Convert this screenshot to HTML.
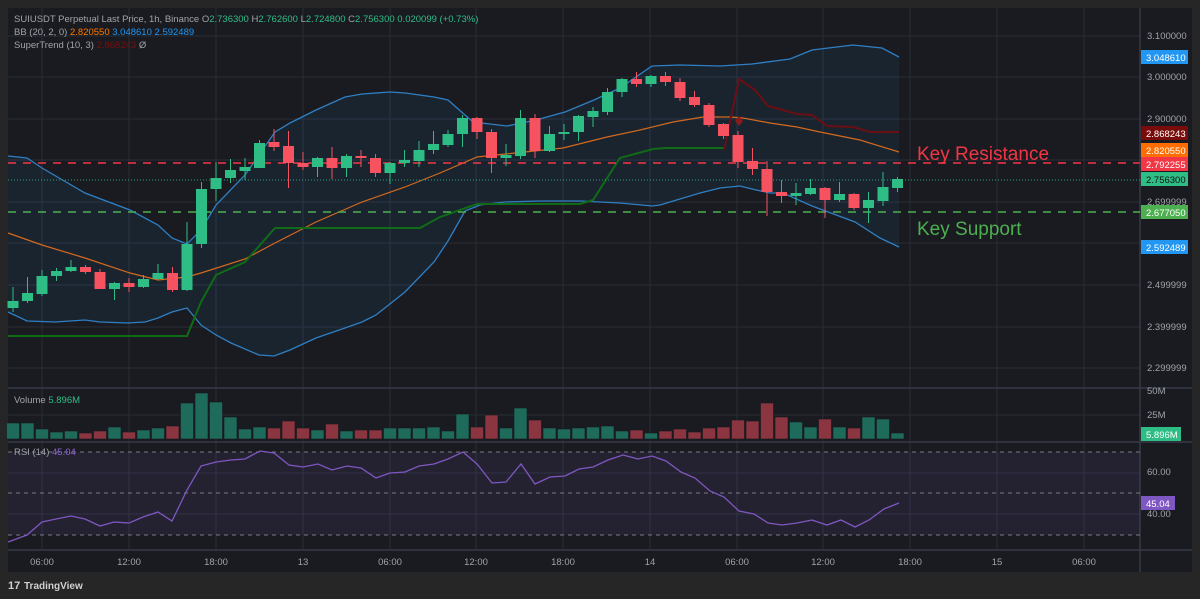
<!DOCTYPE html>
<html><head><meta charset="utf-8"><style>
html,body{margin:0;padding:0;background:#262626;width:1200px;height:599px;overflow:hidden;font-family:"Liberation Sans",sans-serif}
svg{position:absolute;left:0;top:0}
</style></head><body>
<svg id="s" width="1200" height="599" viewBox="0 0 1200 599" xmlns="http://www.w3.org/2000/svg" font-family="Liberation Sans, sans-serif">
<rect x="0" y="0" width="1200" height="599" fill="#262626"/>
<rect x="8" y="8" width="1184" height="564" fill="#1a1b20"/>
<g stroke="#2a2e39" stroke-width="1">
<line x1="8" y1="36" x2="1140" y2="36"/><line x1="8" y1="77" x2="1140" y2="77"/><line x1="8" y1="119" x2="1140" y2="119"/><line x1="8" y1="160" x2="1140" y2="160"/><line x1="8" y1="202" x2="1140" y2="202"/><line x1="8" y1="243" x2="1140" y2="243"/><line x1="8" y1="285" x2="1140" y2="285"/><line x1="8" y1="327" x2="1140" y2="327"/><line x1="8" y1="368" x2="1140" y2="368"/>
<line x1="8" y1="415" x2="1140" y2="415"/><line x1="8" y1="473" x2="1140" y2="473"/><line x1="8" y1="514" x2="1140" y2="514"/>
<line x1="42" y1="8" x2="42" y2="550"/><line x1="129" y1="8" x2="129" y2="550"/><line x1="216" y1="8" x2="216" y2="550"/><line x1="303" y1="8" x2="303" y2="550"/><line x1="390" y1="8" x2="390" y2="550"/><line x1="476" y1="8" x2="476" y2="550"/><line x1="563" y1="8" x2="563" y2="550"/><line x1="650" y1="8" x2="650" y2="550"/><line x1="737" y1="8" x2="737" y2="550"/><line x1="823" y1="8" x2="823" y2="550"/><line x1="910" y1="8" x2="910" y2="550"/><line x1="997" y1="8" x2="997" y2="550"/><line x1="1084" y1="8" x2="1084" y2="550"/>
</g>
<g stroke="#363a45" stroke-width="1.5">
<line x1="8" y1="388" x2="1192" y2="388"/><line x1="8" y1="442" x2="1192" y2="442"/><line x1="8" y1="550" x2="1192" y2="550"/><line x1="1140" y1="8" x2="1140" y2="572"/>
</g>
<!-- BB fill -->
<polygon fill="rgba(33,150,243,0.07)" points="8,156 27,158 42,168 85,193 130,210 158,225 172,238 187,244 201,230 216,205 245,175 275,132 290,123 316,110 345,97 362,94 390,92 405,93 434,97 448,100 465,115 473,122 507,126 536,120 565,112 594,100 620,88 652,66 680,65 720,66 752,64 790,59 812,50 853,45 882,48 899,57 899,247 880,238 855,222 812,206 783,193 770,193 752,189 740,186 720,188 700,193 660,205 652,206 620,203 580,201 540,201 505,202 480,205 465,211 448,241 434,262 405,292 376,315 362,322 345,328 316,338 290,350 274,356 259,355 231,343 216,335 201,325 187,308 172,312 158,318 145,322 128,323 100,322 85,320 55,322 27,321 8,312"/>
<polyline fill="none" stroke="#2f7fc4" stroke-width="1.3" points="8,156 27,158 42,168 85,193 130,210 158,225 172,238 187,244 201,230 216,205 245,175 275,132 290,123 316,110 345,97 362,94 390,92 405,93 434,97 448,100 465,115 473,122 507,126 536,120 565,112 594,100 620,88 652,66 680,65 720,66 752,64 790,59 812,50 853,45 882,48 899,57"/>
<polyline fill="none" stroke="#2f7fc4" stroke-width="1.3" points="8,312 27,321 55,322 85,320 100,322 128,323 145,322 158,318 172,312 187,308 201,325 216,335 231,343 259,355 274,356 290,350 316,338 345,328 362,322 376,315 405,292 434,262 448,241 465,211 480,205 505,202 540,201 580,201 620,203 652,206 660,205 700,193 720,188 740,186 752,189 770,193 783,193 812,206 855,222 880,238 899,247"/>
<polyline fill="none" stroke="#d2691e" stroke-width="1.2" points="8,233 42,245 85,258 130,273 158,280 187,277 201,273 245,259 275,243 316,222 362,202 405,187 440,173 477,157 563,148 607,137 640,130 673,122 703,117 730,117 743,118 770,123 797,127 820,132 860,140 899,152"/>
<polyline fill="none" stroke="#106b16" stroke-width="2" points="8,336 187,336 201,302 216,275 245,262 275,228 420,228 440,217 477,204 580,204 593,200 620,158 653,149 666,148 724,148"/>
<polyline fill="none" stroke="#6a0f14" stroke-width="2" points="724,150 739,79 755,90 768,106 797,114 812,115 827,126 853,127 870,132 899,132"/>
<path d="M739,116 l4,5 -4,5 -4,-5z" fill="#8a1a1a"/>
<line x1="8" y1="163" x2="1140" y2="163" stroke="#f23645" stroke-width="1.5" stroke-dasharray="8,7"/>
<line x1="8" y1="212" x2="1140" y2="212" stroke="#4caf50" stroke-width="1.5" stroke-dasharray="8,7"/>
<line x1="8" y1="180" x2="1140" y2="180" stroke="#2fa080" stroke-width="1" stroke-dasharray="1,2"/>
<g id="candles"></g>
<g id="vol"></g>
<!-- RSI -->
<rect x="8" y="452" width="1132" height="83" fill="rgba(126,87,194,0.1)"/>
<g stroke="#787b86" stroke-width="1" stroke-dasharray="4,4"><line x1="8" y1="452" x2="1140" y2="452"/><line x1="8" y1="493" x2="1140" y2="493"/><line x1="8" y1="535" x2="1140" y2="535"/></g>
<polyline fill="none" stroke="#7e57c2" stroke-width="1.3" points="8,542 27,535 42,522 56,519 71,516 85,519 100,526 114,522 129,523 143,517 158,512 172,521 187,490 201,466 216,462 231,460 245,459 260,451 274,453 289,465 303,467 318,464 332,470 347,466 361,468 376,478 390,473 405,472 419,466 434,464 448,459 463,452 477,464 492,483 506,482 521,464 535,484 550,477 565,476 579,469 593,467 608,460 623,455 638,459 652,456 666,461 681,472 695,478 710,491 724,497 739,511 754,514 768,523 782,525 797,523 812,520 827,525 841,520 855,527 869,520 884,509 899,503"/>
<!-- annotations -->
<text x="917" y="160" font-size="19" fill="#f23645">Key Resistance</text>
<text x="917" y="235" font-size="19" fill="#4caf50">Key Support</text>
<!-- legend -->
<g font-size="9.5">
<text x="14" y="22" fill="#a0a3ab">SUIUSDT Perpetual Last Price, 1h, Binance <tspan fill="#a0a3ab">O</tspan><tspan fill="#2fbd85">2.736300</tspan> H<tspan fill="#2fbd85">2.762600</tspan> L<tspan fill="#2fbd85">2.724800</tspan> C<tspan fill="#2fbd85">2.756300</tspan> <tspan fill="#2fbd85">0.020099 (+0.73%)</tspan></text>
<text x="14" y="35" fill="#a0a3ab">BB (20, 2, 0) <tspan fill="#ff7a00">2.820550</tspan> <tspan fill="#2196f3">3.048610</tspan> <tspan fill="#2196f3">2.592489</tspan></text>
<text x="14" y="48" fill="#a0a3ab">SuperTrend (10, 3) <tspan fill="#7a0d0d">2.868243</tspan> Ø</text>
<text x="14" y="403" fill="#a0a3ab">Volume <tspan fill="#2fbd85">5.896M</tspan></text>
<text x="14" y="455" fill="#a0a3ab">RSI (14) <tspan fill="#8e63d6">45.04</tspan></text>
</g>
<!-- right axis -->
<g font-size="9.5" fill="#a0a3ab">
<text x="1147" y="39">3.100000</text><text x="1147" y="80">3.000000</text><text x="1147" y="122">2.900000</text><text x="1147" y="205">2.699999</text><text x="1147" y="288">2.499999</text><text x="1147" y="330">2.399999</text><text x="1147" y="371">2.299999</text>
<text x="1147" y="394">50M</text><text x="1147" y="418">25M</text><text x="1147" y="475">60.00</text><text x="1147" y="517">40.00</text>
</g>
<g font-size="9.5">
<rect x="1141" y="50" width="47" height="14" fill="#2196f3"/><text x="1146" y="61" fill="#fff">3.048610</text>
<rect x="1141" y="126" width="47" height="14" fill="#7a0b0b"/><text x="1146" y="137" fill="#fff">2.868243</text>
<rect x="1141" y="143" width="47" height="14" fill="#ff6d00"/><text x="1146" y="154" fill="#fff">2.820550</text>
<rect x="1141" y="157" width="47" height="14" fill="#f23645"/><text x="1146" y="168" fill="#fff">2.792255</text>
<rect x="1141" y="172" width="47" height="14" fill="#2ebd85"/><text x="1146" y="183" fill="#111">2.756300</text>
<rect x="1141" y="205" width="47" height="14" fill="#4caf50"/><text x="1146" y="216" fill="#fff">2.677050</text>
<rect x="1141" y="240" width="47" height="14" fill="#2196f3"/><text x="1146" y="251" fill="#fff">2.592489</text>
<rect x="1141" y="427" width="40" height="14" fill="#2ebd85"/><text x="1146" y="438" fill="#fff">5.896M</text>
<rect x="1141" y="496" width="34" height="14" fill="#7e57c2"/><text x="1146" y="507" fill="#fff">45.04</text>
</g>
<!-- time axis -->
<g font-size="9.5" fill="#a0a3ab" text-anchor="middle">
<text x="42" y="565">06:00</text><text x="129" y="565">12:00</text><text x="216" y="565">18:00</text><text x="303" y="565">13</text><text x="390" y="565">06:00</text><text x="476" y="565">12:00</text><text x="563" y="565">18:00</text><text x="650" y="565">14</text><text x="737" y="565">06:00</text><text x="823" y="565">12:00</text><text x="910" y="565">18:00</text><text x="997" y="565">15</text><text x="1084" y="565">06:00</text>
</g>
<text x="24" y="589" font-size="10" fill="#d0d0d0" font-weight="bold">TradingView</text>
<text x="8" y="589" font-size="11" fill="#d0d0d0" font-weight="bold">17</text>
</svg>
<script>
var C=[[301,308,287,312,'g'],[293,301,277,303,'g'],[276,294,270,296,'g'],[271,276,268,281,'g'],[267,271,260,272,'g'],[267,272,265,274,'r'],[272,289,269,289,'r'],[283,289,282,300,'g'],[283,287,278,292,'r'],[279,287,275,288,'g'],[273,279,264,280,'g'],[273,290,267,292,'r'],[244,290,222,291,'g'],[189,244,182,248,'g'],[178,189,162,201,'g'],[170,178,159,183,'g'],[167,171,158,180,'g'],[143,168,140,168,'g'],[142,147,129,151,'r'],[146,163,131,188,'r'],[163,167,152,170,'r'],[158,167,157,177,'g'],[158,168,147,179,'r'],[156,168,154,177,'g'],[156,158,150,167,'r'],[158,173,154,177,'r'],[163,173,162,184,'g'],[160,163,150,167,'g'],[150,161,141,167,'g'],[144,150,131,154,'g'],[134,145,130,147,'g'],[118,134,115,147,'g'],[118,132,117,139,'r'],[132,158,129,173,'r'],[155,158,144,166,'g'],[118,156,110,159,'g'],[118,151,114,158,'r'],[134,151,126,152,'g'],[132,134,124,140,'g'],[116,132,115,141,'g'],[111,117,107,127,'g'],[92,112,88,115,'g'],[79,92,78,97,'g'],[79,84,72,87,'r'],[76,84,75,87,'g'],[76,82,72,86,'r'],[82,98,78,101,'r'],[97,105,91,107,'r'],[105,125,103,127,'r'],[124,136,123,139,'r'],[135,162,131,168,'r'],[161,169,148,175,'r'],[169,192,161,216,'r'],[192,196,180,203,'r'],[193,196,183,205,'g'],[188,194,179,195,'g'],[188,200,187,218,'r'],[194,200,182,202,'g'],[194,208,193,210,'r'],[200,208,192,223,'g'],[187,201,172,206,'g'],[179,188,177,192,'g']];
var V=[423,423,429,432,431,433,431,427,432,430,428,426,403,393,402,417,429,427,428,421,428,430,424,431,430,430,428,428,428,427,431,414,427,415,428,408,420,428,429,428,427,426,431,430,433,431,429,432,428,427,420,421,403,417,422,427,419,427,428,417,419,433];
var ns="http://www.w3.org/2000/svg",g=document.getElementById('candles'),v=document.getElementById('vol');
function el(t,a,p){var e=document.createElementNS(ns,t);for(var k in a)e.setAttribute(k,a[k]);p.appendChild(e);}
C.forEach(function(c,i){var x=13+i*14.5,col=c[4]=='g'?'#2ebd85':'#f7525f';
el('line',{x1:x,x2:x,y1:c[2],y2:c[3],stroke:col,'stroke-width':1},g);
el('rect',{x:x-5.5,y:c[0],width:11,height:Math.max(1.5,c[1]-c[0]),fill:col},g);
el('rect',{x:x-6.5,y:V[i],width:13,height:439-V[i],fill:c[4]=='g'?'#1f6b5b':'#8a3540',stroke:'#16191e','stroke-width':0.6},v);});
</script>
</body></html>
